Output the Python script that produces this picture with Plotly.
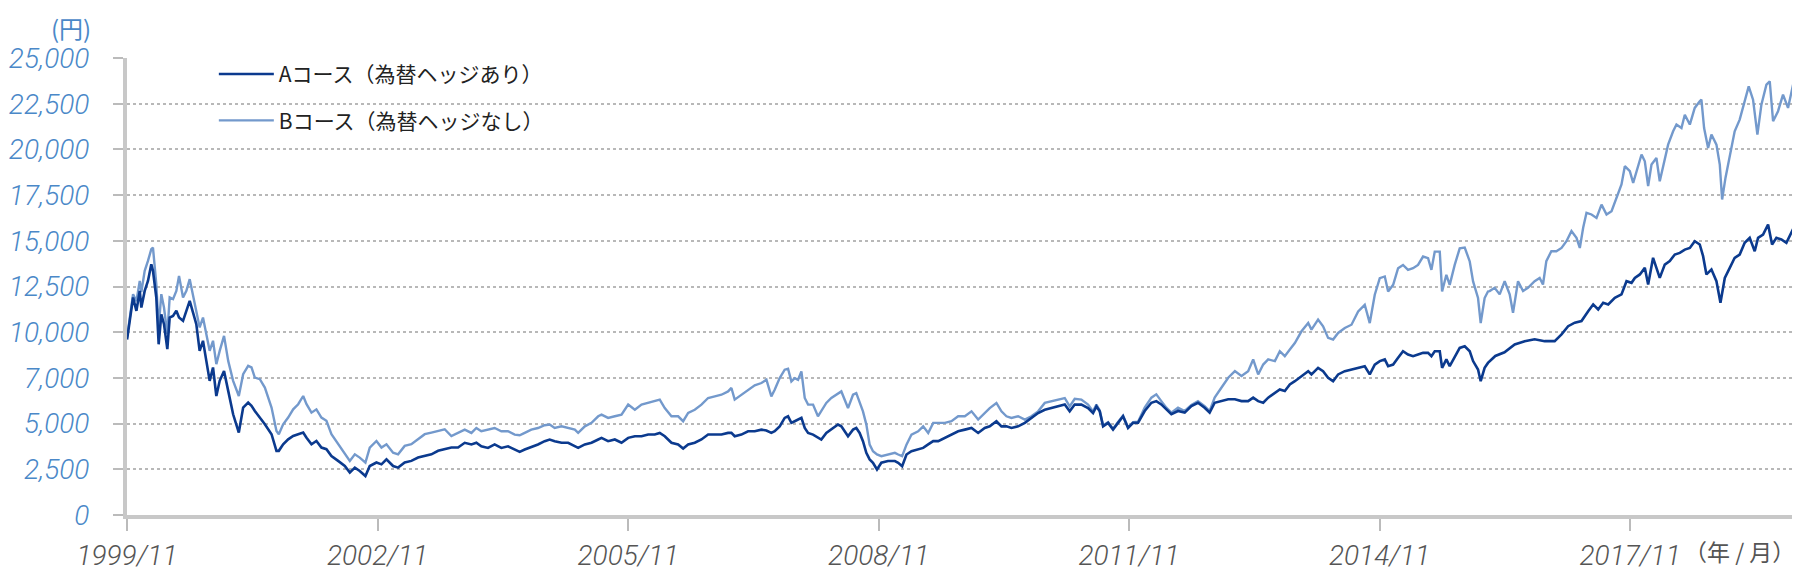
import plotly.graph_objects as go
import pandas as pd

# ---------------- data ----------------
# decimal years shared by both series up to early 2016
years_ab = [
    1999.833, 1999.865, 1999.905, 1999.945, 1999.985, 2000.005, 2000.045, 2000.084, 2000.124, 2000.144,
    2000.164, 2000.184, 2000.212, 2000.244, 2000.276, 2000.316, 2000.344, 2000.384, 2000.424, 2000.456,
    2000.504, 2000.544, 2000.584, 2000.623, 2000.663, 2000.703, 2000.743, 2000.783, 2000.823, 2000.863,
    2000.903, 2000.943, 2000.995, 2001.043, 2001.102, 2001.170, 2001.222, 2001.282, 2001.322, 2001.362,
    2001.422, 2001.482, 2001.562, 2001.621, 2001.649, 2001.701, 2001.761, 2001.821, 2001.881, 2001.941,
    2001.981, 2002.041, 2002.100, 2002.160, 2002.220, 2002.280, 2002.360, 2002.440, 2002.500, 2002.560,
    2002.619, 2002.687, 2002.739, 2002.819, 2002.879, 2002.939, 2003.019, 2003.079, 2003.158, 2003.238,
    2003.318, 2003.398, 2003.478, 2003.558, 2003.637, 2003.717, 2003.797,
    2003.877, 2003.957, 2004.017, 2004.076, 2004.156, 2004.236, 2004.316, 2004.396, 2004.476, 2004.536,
    2004.596, 2004.675, 2004.755, 2004.835, 2004.895, 2004.955, 2005.035, 2005.114, 2005.194, 2005.234,
    2005.314, 2005.394, 2005.474, 2005.514, 2005.593, 2005.673, 2005.753, 2005.833, 2005.913, 2005.993,
    2006.073, 2006.152, 2006.212, 2006.272, 2006.352, 2006.432, 2006.492, 2006.552, 2006.631, 2006.711,
    2006.791, 2006.871, 2006.951, 2007.031, 2007.071, 2007.110, 2007.190, 2007.270, 2007.350, 2007.430,
    2007.490, 2007.549, 2007.589, 2007.649, 2007.709, 2007.749, 2007.789, 2007.829,
    2007.869, 2007.909, 2007.949, 2007.989, 2008.049, 2008.108, 2008.148, 2008.208, 2008.268, 2008.348,
    2008.388, 2008.468, 2008.528, 2008.567, 2008.607, 2008.647, 2008.687, 2008.727, 2008.767, 2008.815,
    2008.867, 2008.947, 2009.027, 2009.067, 2009.114, 2009.166, 2009.226, 2009.306, 2009.366, 2009.426,
    2009.486, 2009.546, 2009.626, 2009.705, 2009.785, 2009.865, 2009.945, 2010.025, 2010.104, 2010.164,
    2010.244, 2010.304, 2010.364, 2010.424, 2010.504, 2010.584, 2010.663, 2010.743, 2010.823, 2010.903,
    2010.983, 2011.063, 2011.122, 2011.182, 2011.262, 2011.342, 2011.402, 2011.442, 2011.482, 2011.522,
    2011.582, 2011.641, 2011.701, 2011.761, 2011.821, 2011.881,
    2011.941, 2012.021, 2012.101, 2012.160, 2012.220, 2012.280, 2012.340, 2012.420, 2012.500, 2012.580,
    2012.659, 2012.739, 2012.799, 2012.859, 2012.939, 2013.019, 2013.099, 2013.178, 2013.258, 2013.318,
    2013.378, 2013.438, 2013.498, 2013.578, 2013.637, 2013.697, 2013.757, 2013.817, 2013.897, 2013.977,
    2014.017, 2014.096, 2014.156, 2014.216, 2014.276, 2014.336, 2014.416, 2014.496, 2014.576, 2014.655,
    2014.715, 2014.775, 2014.835, 2014.895, 2014.935, 2014.995, 2015.055, 2015.114, 2015.174, 2015.234,
    2015.294, 2015.354, 2015.414, 2015.454, 2015.494, 2015.554, 2015.582, 2015.633, 2015.673, 2015.733,
    2015.793, 2015.853, 2015.913, 2015.953, 2016.013, 2016.045, 2016.092, 2016.132,
]

course_a_head = [
    9600, 10620, 11900, 11170, 12260, 11350, 12260, 12800, 13720, 13360,
    12630, 11900, 9340, 10980, 10440, 9070, 10800, 10890, 11170, 10800,
    10620, 11170, 11710, 11080, 10440, 8980, 9530, 8430, 7340, 8070,
    6510, 7340, 7880, 6790, 5510, 4510, 5880, 6150, 5970, 5690,
    5330, 4960, 4420, 3510, 3510, 3870, 4140, 4320, 4420, 4510,
    4230, 3870, 4050, 3690, 3600, 3230, 2960, 2680, 2320, 2590,
    2410, 2130, 2680, 2870, 2770, 3050, 2680, 2590, 2870, 2960,
    3140, 3230, 3320, 3510, 3600, 3690, 3690,
    3950, 3860, 3950, 3760, 3670, 3860, 3670, 3760, 3580, 3450,
    3580, 3710, 3860, 4040, 4130, 4040, 3950, 3950, 3760, 3670,
    3860, 3950, 4130, 4220, 4040, 4130, 3950, 4220, 4310, 4310,
    4400, 4400, 4490, 4310, 3950, 3860, 3640, 3860, 3950, 4130,
    4400, 4400, 4400, 4490, 4490, 4310, 4400, 4580, 4580, 4670,
    4620, 4490, 4580, 4850, 5310, 5400, 5040, 5130,
    5220, 5310, 4760, 4490, 4400, 4220, 4130, 4490, 4670, 4950,
    4850, 4310, 4670, 4760, 4490, 4040, 3400, 3040, 2860, 2490,
    2860, 2950, 2950, 2860, 2670, 3310, 3490, 3580, 3670, 3860,
    4040, 4040, 4220, 4400, 4580, 4670, 4760, 4490, 4760, 4850,
    5130, 4850, 4850, 4760, 4850, 5040, 5310, 5580, 5760, 5850,
    5940, 6040, 5670, 6040, 6040, 5850, 5580, 5940, 5670, 4850,
    5040, 4670, 5040, 5400, 4760, 5040,
    5050, 5690, 6140, 6230, 6050, 5780, 5510, 5690, 5600, 5960,
    6140, 5870, 5600, 6140, 6230, 6330, 6330, 6230, 6230, 6420,
    6230, 6140, 6420, 6690, 6870, 6780, 7140, 7320, 7600, 7870,
    7690, 8050, 7870, 7510, 7320, 7690, 7870, 7960, 8050, 8140,
    7690, 8230, 8420, 8510, 8140, 8230, 8600, 8960, 8780, 8690,
    8780, 8870, 8870, 8690, 8960, 8960, 8050, 8510, 8140, 8600,
    9140, 9230, 8960, 8420, 7960, 7320, 8050, 8320,
]

course_b_head = [
    9700, 10800, 12080, 11700, 12810, 12200, 13360, 13900, 14540, 14630,
    13540, 12630, 10260, 12080, 11350, 9890, 11900, 11810, 12260, 13080,
    11900, 12260, 12900, 12080, 11170, 10260, 10800, 9890, 8980, 9530,
    8250, 8980, 9800, 8430, 7340, 6510, 7700, 8160, 8070, 7520,
    7430, 6970, 5880, 4600, 4420, 4960, 5330, 5780, 6060, 6510,
    6060, 5600, 5780, 5330, 5150, 4420, 3870, 3320, 2960, 3320,
    3140, 2870, 3690, 4050, 3690, 3870, 3410, 3320, 3780, 3870,
    4140, 4420, 4510, 4600, 4690, 4320, 4510,
    4670, 4490, 4760, 4580, 4670, 4760, 4580, 4580, 4400, 4360,
    4490, 4670, 4760, 4910, 4950, 4760, 4850, 4760, 4670, 4490,
    4850, 5040, 5400, 5490, 5310, 5400, 5490, 6040, 5760, 6040,
    6130, 6220, 6310, 5850, 5400, 5400, 5130, 5580, 5760, 6040,
    6400, 6490, 6580, 6760, 6950, 6310, 6580, 6850, 7090, 7220,
    7400, 6490, 6850, 7490, 7950, 8000, 7310, 7490,
    7400, 7860, 6400, 6040, 6040, 5400, 5670, 6130, 6400, 6670,
    6760, 5850, 6580, 6670, 6220, 5670, 4960, 3850, 3490, 3310,
    3220, 3310, 3400, 3310, 3220, 3850, 4400, 4580, 4850, 4490,
    5040, 5040, 5040, 5130, 5400, 5400, 5670, 5220, 5580, 5850,
    6130, 5670, 5400, 5310, 5400, 5220, 5400, 5670, 6130, 6220,
    6310, 6400, 5940, 6360, 6310, 6040, 5670, 6040, 5720, 4900,
    5080, 4720, 5090, 5440, 4800, 5080,
    5100, 5870, 6420, 6600, 6230, 5870, 5600, 5870, 5690, 6020,
    6230, 5960, 5690, 6420, 6960, 7510, 7870, 7600, 7870, 8510,
    7690, 8230, 8510, 8420, 8960, 8690, 9050, 9410, 10050, 10500,
    10140, 10690, 10320, 9690, 9600, 9960, 10230, 10410, 11140, 11500,
    10500, 12050, 12960, 13050, 12230, 12590, 13500, 13680, 13410, 13500,
    13680, 14140, 14050, 13410, 14410, 14410, 12230, 13140, 12590, 13680,
    14590, 14630, 13870, 12780, 11870, 10500, 11870, 12230,
]

# tails after early 2016 (read separately for each course)
years_a_tail = [
    2016.220, 2016.330, 2016.452, 2016.572, 2016.691, 2016.811, 2016.931, 2017.011, 2017.090, 2017.170,
    2017.250, 2017.330, 2017.390, 2017.450, 2017.510, 2017.570, 2017.649, 2017.729, 2017.789, 2017.849,
    2017.889, 2017.949, 2018.009, 2018.049, 2018.108, 2018.148, 2018.188, 2018.248, 2018.308, 2018.368,
    2018.428, 2018.488, 2018.548, 2018.607, 2018.667, 2018.707, 2018.747, 2018.807, 2018.867, 2018.915,
    2018.967, 2019.027, 2019.086, 2019.146, 2019.206, 2019.266, 2019.326, 2019.366, 2019.426, 2019.486,
    2019.534, 2019.586, 2019.645, 2019.705, 2019.765, 2019.830,
]
course_a_tail = [
    8700, 8900, 9330, 9510, 9610, 9510, 9510, 9880, 10330, 10520,
    10610, 11150, 11520, 11240, 11610, 11520, 11880, 12070, 12790, 12700,
    12970, 13160, 13520, 12610, 14070, 13520, 12970, 13700, 13890, 14250,
    14340, 14520, 14610, 14980, 14800, 14160, 13160, 13430, 12790, 11610,
    12970, 13520, 14070, 14250, 14890, 15160, 14430, 15160, 15340, 15890,
    14800, 15160, 15070, 14890, 15430, 16070,
]

years_b_tail = [
    2016.152, 2016.212, 2016.272, 2016.332, 2016.392, 2016.432, 2016.492, 2016.552, 2016.611, 2016.691,
    2016.751, 2016.791, 2016.831, 2016.891, 2016.951, 2017.011, 2017.070, 2017.130, 2017.190, 2017.230,
    2017.270, 2017.310, 2017.370, 2017.430, 2017.490, 2017.550, 2017.610, 2017.669, 2017.729, 2017.769,
    2017.829, 2017.869, 2017.929, 2017.969, 2018.009, 2018.049, 2018.089, 2018.148, 2018.188, 2018.248,
    2018.288, 2018.348, 2018.388, 2018.448, 2018.488, 2018.548, 2018.607, 2018.667, 2018.687, 2018.719,
    2018.767, 2018.807, 2018.867, 2018.907, 2018.935, 2018.975, 2019.027, 2019.086, 2019.146, 2019.206,
    2019.254, 2019.306, 2019.358, 2019.406, 2019.466, 2019.506, 2019.546, 2019.605, 2019.665, 2019.725,
    2019.785, 2019.830,
]
course_b_tail = [
    12250, 12430, 12070, 12790, 12070, 11060, 12790, 12250, 12430, 12790,
    12970, 12610, 13890, 14430, 14430, 14610, 14980, 15530, 15160, 14610,
    15710, 16530, 16440, 16250, 16980, 16440, 16620, 17350, 18080, 19080,
    18810, 18170, 19170, 19720, 19350, 17990, 19170, 19530, 18260, 19530,
    20260, 20990, 21360, 21170, 21900, 21360, 22270, 22630, 22720, 21170,
    20080, 20810, 20260, 19170, 17260, 18440, 19720, 20990, 21630, 22630,
    23450, 22720, 20810, 22450, 23540, 23720, 21540, 22090, 23000, 22270,
    23540, 24270,
]

x_tick_labels = ["1999/11", "2002/11", "2005/11", "2008/11", "2011/11", "2014/11", "2017/11"]
y_tick_values = [0, 2500, 5000, 7500, 10000, 12500, 15000, 17500, 20000, 22500, 25000]
y_tick_labels = ["0", "2,500", "5,000", "7,000", "10,000", "12,500", "15,000",
                 "17,500", "20,000", "22,500", "25,000"]
name_a = "Aコース（為替ヘッジあり）"
name_b = "Bコース（為替ヘッジなし）"
x_range_labels = ["1999/11", "2019/11"]


def to_date(y):
    yr = int(y)
    return pd.Timestamp(yr, 1, 1) + pd.Timedelta(days=(y - yr) * 365.25)


def label_to_date(s):
    yy, mm = s.split("/")
    return pd.Timestamp(int(yy), int(mm), 1)


dates_a = [to_date(v) for v in years_ab + years_a_tail]
dates_b = [to_date(v) for v in years_ab + years_b_tail]
course_a = course_a_head + course_a_tail
course_b = course_b_head + course_b_tail

BLUE_TXT = "#4a88c8"
GRAY_TXT = "#555555"
AXIS_GRAY = "#c8c8c8"
NUM_FONT = "Roboto, 'Liberation Sans', Arial, sans-serif"
JP_FONT = "'Noto Sans CJK JP', 'Noto Sans', sans-serif"

fig = go.Figure()
fig.add_trace(go.Scatter(
    x=dates_b, y=course_b, mode="lines", name=name_b,
    line=dict(color="#7399cc", width=2.4), legendgroup="b", legendrank=2,
))
fig.add_trace(go.Scatter(
    x=dates_a, y=course_a, mode="lines", name=name_a,
    line=dict(color="#0b3a8e", width=2.6), legendgroup="a", legendrank=1,
))

fig.update_layout(
    width=1800, height=576,
    margin=dict(l=119, r=11, t=50, b=69, autoexpand=False),
    paper_bgcolor="white", plot_bgcolor="white",
    showlegend=True,
    legend=dict(
        x=0.052, y=1.009, xanchor="left", yanchor="top",
        bgcolor="rgba(0,0,0,0)", borderwidth=0,
        font=dict(family=JP_FONT, size=21, color="#222222"),
        tracegroupgap=16, itemwidth=55,
    ),
    xaxis=dict(
        type="date", automargin=False,
        range=[label_to_date(x_range_labels[0]), label_to_date(x_range_labels[1])],
        tickvals=[label_to_date(s) for s in x_tick_labels],
        ticktext=x_tick_labels,
        showgrid=False, zeroline=False,
        showline=True, linecolor=AXIS_GRAY, linewidth=4,
        ticks="outside", ticklen=12, tickwidth=1.5, tickcolor="#bbbbbb",
        ticklabelstandoff=0,
        tickfont=dict(family=NUM_FONT, size=28, color=GRAY_TXT, style="italic", weight=300),
    ),
    yaxis=dict(
        range=[0, 25000], automargin=False,
        tickvals=y_tick_values, ticktext=y_tick_labels,
        showgrid=True, gridcolor="#b8b8b8", gridwidth=1.5, griddash="dot",
        zeroline=False,
        showline=True, linecolor=AXIS_GRAY, linewidth=4,
        ticks="outside", ticklen=10, tickwidth=1.5, tickcolor="#bbbbbb",
        ticklabelstandoff=18,
        tickfont=dict(family=NUM_FONT, size=28, color=BLUE_TXT, style="italic", weight=300),
    ),
    annotations=[
        dict(text="(円)", xref="paper", yref="paper", x=-0.0335, y=1.107,
             xanchor="center", yanchor="top", showarrow=False, borderpad=0,
             font=dict(family=JP_FONT, size=24, color=BLUE_TXT)),
        dict(text="（年 / 月）", xref="paper", yref="paper", x=0.931, y=-0.078,
             xanchor="left", yanchor="middle", showarrow=False,
             font=dict(family=JP_FONT, size=23, color=GRAY_TXT)),
    ],
)

fig.write_html("out.html")
